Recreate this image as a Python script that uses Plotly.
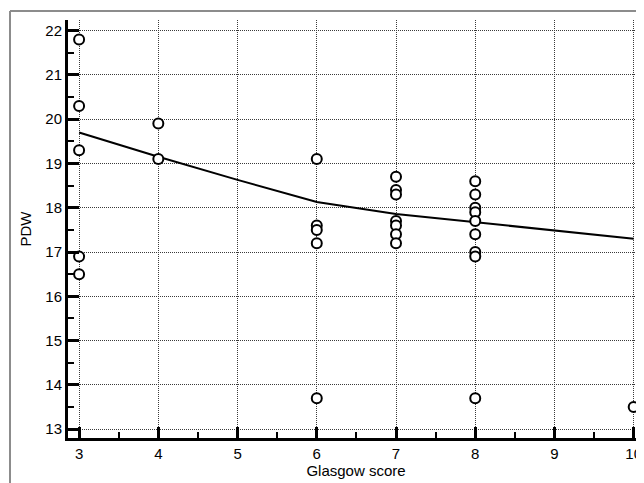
import plotly.graph_objects as go

# Data
glasgow = [3, 3, 3, 3, 3,
           4, 4,
           6, 6, 6, 6, 6,
           7, 7, 7, 7, 7, 7, 7,
           8, 8, 8, 8, 8, 8, 8, 8, 8,
           10]
pdw = [21.8, 20.3, 19.3, 16.9, 16.5,
       19.9, 19.1,
       19.1, 17.6, 17.5, 17.2, 13.7,
       18.7, 18.4, 18.3, 17.7, 17.6, 17.4, 17.2,
       18.6, 18.3, 18.0, 17.9, 17.7, 17.4, 17.0, 16.9, 13.7,
       13.5]

fit_x = [3, 4, 5, 6, 7, 8, 9, 10]
fit_y = [19.7, 19.15, 18.63, 18.13, 17.86, 17.67, 17.48, 17.3]

x_ticks = [3, 4, 5, 6, 7, 8, 9, 10]
y_ticks = [13, 14, 15, 16, 17, 18, 19, 20, 21, 22]

fig = go.Figure()
fig.add_trace(go.Scatter(
    x=fit_x, y=fit_y, mode="lines",
    line=dict(color="black", width=2),
    showlegend=False, hoverinfo="skip"))
fig.add_trace(go.Scatter(
    x=glasgow, y=pdw, mode="markers",
    marker=dict(symbol="circle", size=10, color="white",
                line=dict(color="black", width=2)),
    cliponaxis=False,
    showlegend=False))

font_family = "Liberation Sans, Arial, sans-serif"
axis_common = dict(
    showline=True, linecolor="black", linewidth=3,
    ticks="inside", ticklen=11, tickwidth=3, tickcolor="black",
    showgrid=True, gridcolor="#3a3a3a", gridwidth=1, griddash="1px,1px",
    zeroline=False, automargin=False, ticklabeloverflow="allow",
    tickfont=dict(family=font_family, size=15, color="black"),
    minor=dict(ticks="inside", ticklen=6, tickwidth=2, tickcolor="black",
               dtick=0.5, showgrid=False),
)

fig.update_xaxes(
    range=[2.86, 10.13], tickvals=x_ticks, ticktext=[str(v) for v in x_ticks],
    title=dict(text="Glasgow score", font=dict(family=font_family, size=15, color="black"),
               standoff=4),
    **axis_common)
fig.update_yaxes(
    range=[12.8, 22.24], tickvals=y_ticks, ticktext=[str(v) for v in y_ticks],
    title=dict(text="PDW", font=dict(family=font_family, size=15, color="black"),
               standoff=11),
    **axis_common)

# The page body adds an 8px margin, so the figure is sized/positioned to compensate
fig.update_layout(
    width=636, height=475,
    margin=dict(l=60, r=0, t=12, b=45),
    plot_bgcolor="white", paper_bgcolor="white",
    font=dict(family=font_family, color="black"),
    shapes=[
        dict(type="line", xref="paper", yref="paper",
             x0=-0.1007, x1=-0.1007, y0=-0.2, y1=1.0215,
             line=dict(color="#8c8c8c", width=2)),
        dict(type="line", xref="paper", yref="paper",
             x0=-0.1007, x1=1.05, y0=1.0215, y1=1.0215,
             line=dict(color="#8c8c8c", width=2)),
    ],
)

fig.write_html("out.html")
